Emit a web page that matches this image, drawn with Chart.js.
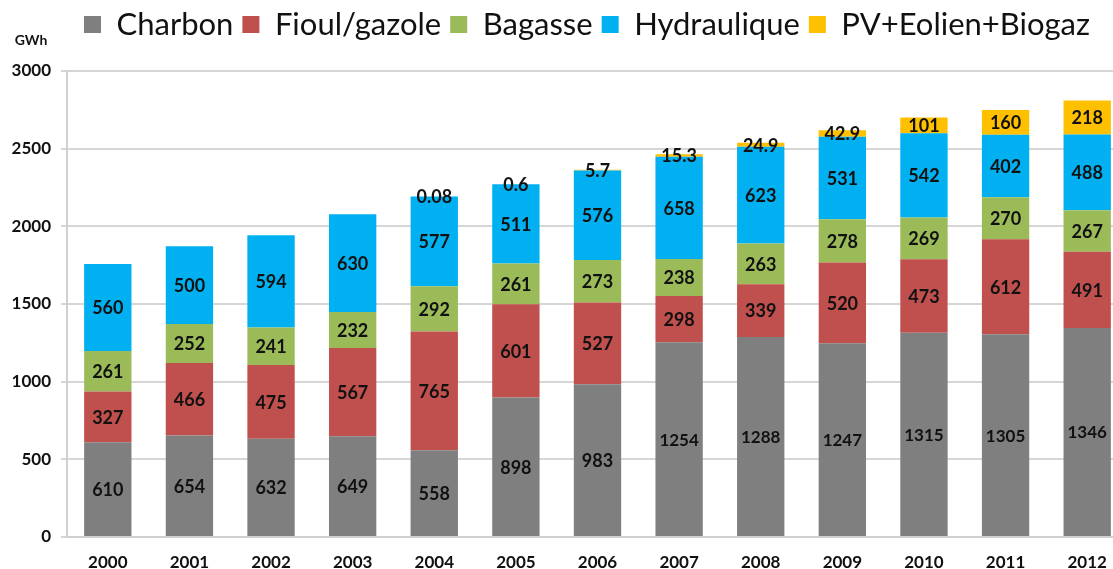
<!DOCTYPE html>
<html lang="fr">
<head>
    <meta charset="UTF-8">
    <title>Production électrique (GWh)</title>
    <script src="https://cdn.jsdelivr.net/npm/chart.js"></script>
    <style>
        html, body { margin: 0; padding: 0; background: #fff; overflow: hidden; }
        .chart-box { position: relative; width: 1130px; height: 569px; }
    </style>
</head>
<body>
    <div class="chart-box">
        <canvas id="prodChart"></canvas>
    </div>
    <script>
        const years = ["2000", "2001", "2002", "2003", "2004", "2005", "2006", "2007", "2008", "2009", "2010", "2011", "2012"];
        const charbon = [610, 654, 632, 649, 558, 898, 983, 1254, 1288, 1247, 1315, 1305, 1346];
        const fioul = [327, 466, 475, 567, 765, 601, 527, 298, 339, 520, 473, 612, 491];
        const bagasse = [261, 252, 241, 232, 292, 261, 273, 238, 263, 278, 269, 270, 267];
        const hydraulique = [560, 500, 594, 630, 577, 511, 576, 658, 623, 531, 542, 402, 488];
        const pvEolienBiogaz = [0, 0, 0, 0, 0.08, 0.6, 5.7, 15.3, 24.9, 42.9, 101, 160, 218];
        const yTicks = [0, 500, 1000, 1500, 2000, 2500, 3000];

        const FONT = "Lato, 'Open Sans', sans-serif";

        // values written in the middle of each segment
        const segmentLabels = {
            id: "segmentLabels",
            afterDatasetsDraw(chart) {
                const ctx = chart.ctx;
                ctx.save();
                ctx.textAlign = "center";
                ctx.textBaseline = "middle";
                ctx.fillStyle = "#111";
                chart.data.datasets.forEach((ds, i) => {
                    const meta = chart.getDatasetMeta(i);
                    meta.data.forEach((bar, j) => {
                        const v = ds.data[j];
                        if (!v) return;
                        ctx.font = "bold " + (v >= 1000 ? 17 : 18) + "px " + FONT;
                        ctx.fillText(String(v), bar.x, (bar.y + bar.base) / 2 + 1);
                    });
                });
                ctx.restore();
            }
        };

        // unit label above the y axis, legend spacing
        const unitLabel = {
            id: "unitLabel",
            afterInit(chart) {
                const lg = chart.legend;
                const fit = lg.fit;
                lg.fit = function () {
                    fit.call(this);
                    this.height += 21;
                };
            },
            afterLayout(chart) {
                chart.legend.left += 23;
                chart.legend.right += 23;
            },
            afterDraw(chart) {
                const ctx = chart.ctx;
                ctx.save();
                ctx.font = "bold 14px " + FONT;
                ctx.fillStyle = "#111";
                ctx.textAlign = "center";
                ctx.textBaseline = "middle";
                ctx.fillText("GWh", 31, chart.chartArea.top - 31);
                ctx.restore();
            }
        };

        function makeSet(label, data, color) {
            return {
                label: label,
                data: data,
                backgroundColor: color,
                borderWidth: 0,
                barPercentage: 0.58,
                categoryPercentage: 1.0
            };
        }

        new Chart(document.getElementById("prodChart").getContext("2d"), {
            type: "bar",
            data: {
                labels: years,
                datasets: [
                    makeSet("Charbon", charbon, "#7f7f7f"),
                    makeSet("Fioul/gazole", fioul, "#c0504d"),
                    makeSet("Bagasse", bagasse, "#9bbb59"),
                    makeSet("Hydraulique", hydraulique, "#00b0f0"),
                    makeSet("PV+Eolien+Biogaz", pvEolienBiogaz, "#ffc000")
                ]
            },
            plugins: [segmentLabels, unitLabel],
            options: {
                responsive: true,
                maintainAspectRatio: false,
                animation: false,
                layout: { padding: { top: 0, right: 2, bottom: 0, left: 0 } },
                plugins: {
                    tooltip: { enabled: false },
                    legend: {
                        position: "top",
                        labels: {
                            boxWidth: 17,
                            boxHeight: 17,
                            padding: 9,
                            color: "#111",
                            font: { family: FONT, size: 31 }
                        }
                    }
                },
                scales: {
                    x: {
                        stacked: true,
                        offset: true,
                        afterFit(scale) { scale.height = 32; },
                        grid: { display: false, drawTicks: false },
                        border: { display: true, color: "#d0d0d0", width: 2 },
                        ticks: {
                            padding: 15,
                            color: "#111",
                            font: { family: FONT, size: 17, weight: "bold" }
                        }
                    },
                    y: {
                        stacked: true,
                        min: 0,
                        max: 3000,
                        afterFit(scale) { scale.width = 67; },
                        afterBuildTicks(scale) { scale.ticks = yTicks.map(v => ({ value: v })); },
                        grid: { color: "#d6d6d6", lineWidth: 2, tickLength: 6 },
                        border: { display: true, color: "#d0d0d0", width: 2 },
                        ticks: {
                            padding: 10,
                            color: "#111",
                            font: { family: FONT, size: 17, weight: "bold" },
                            callback: v => String(v)
                        }
                    }
                }
            }
        });
    </script>
</body>
</html>
